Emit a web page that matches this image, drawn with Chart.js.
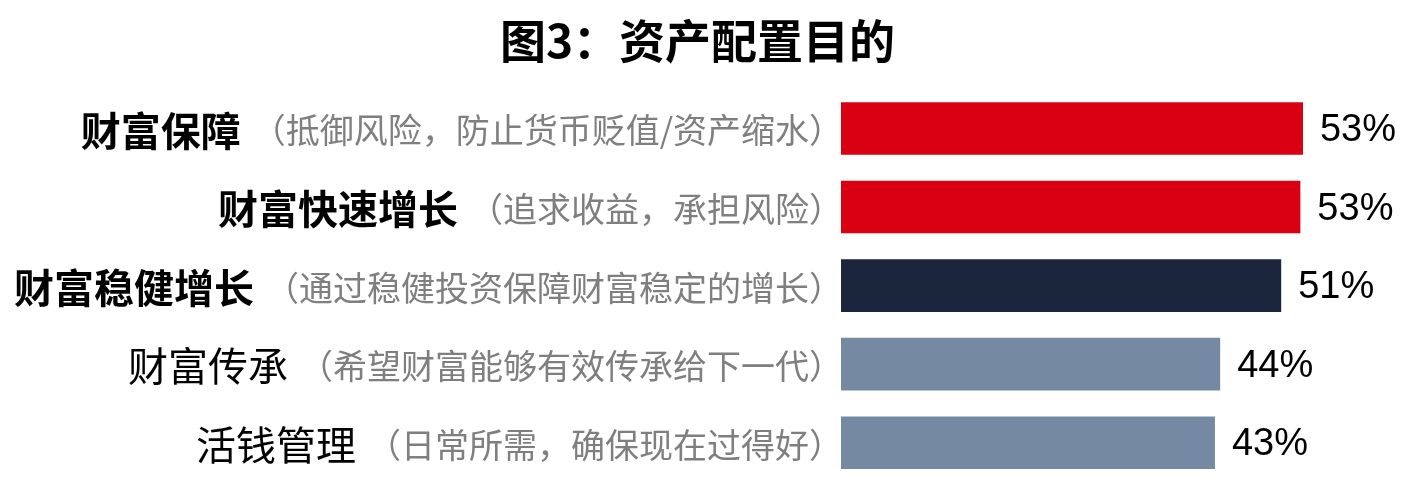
<!DOCTYPE html>
<html>
<head>
<meta charset="utf-8">
<script src="https://cdn.jsdelivr.net/npm/chart.js@4.4.1/dist/chart.umd.min.js"></script>
<style>
  html, body { margin: 0; padding: 0; background: #fff; }
  #wrap { width: 1418px; height: 493px; }
</style>
</head>
<body>
<div id="wrap"><canvas id="barChart"></canvas></div>
<script>
// data
const categories = ['财富保障', '财富快速增长', '财富稳健增长', '财富传承', '活钱管理'];
const notes = [
    '（抵御风险，防止货币贬值/资产缩水）',
    '（追求收益，承担风险）',
    '（通过稳健投资保障财富稳定的增长）',
    '（希望财富能够有效传承给下一代）',
    '（日常所需，确保现在过得好）'
];
const shares = [53.0, 52.7, 50.5, 43.5, 42.9];
const shareLabels = ['53%', '53%', '51%', '44%', '43%'];

// styling
const barColors = ['#d90012', '#d90012', '#1b253c', '#7589a3', '#7589a3'];
const catWeights = ['bold', 'bold', 'bold', 'normal', 'normal'];
const CJK = '"Noto Sans CJK SC", "Noto Sans", sans-serif';

const labelPlugin = {
    id: 'labels',
    afterDatasetsDraw(chart) {
        const c = chart.ctx;
        const yScale = chart.scales.y;
        const right = chart.chartArea.left + 2;
        c.save();
        c.textBaseline = 'middle';
        c.textAlign = 'right';
        categories.forEach((cat, i) => {
            const y = yScale.getPixelForTick(i) + 2;
            c.font = '34px ' + CJK;
            c.fillStyle = '#7f7f7f';
            c.fillText(notes[i], right, y);
            const w = c.measureText(notes[i]).width;
            c.font = catWeights[i] + ' 40px ' + CJK;
            c.fillStyle = '#000';
            c.fillText(cat, right - w - 11, y);
        });
        // value labels at bar ends
        c.textAlign = 'left';
        c.font = '38px "Liberation Sans", Arial, sans-serif';
        c.fillStyle = '#000';
        chart.getDatasetMeta(0).data.forEach((bar, i) => {
            c.fillText(shareLabels[i], bar.x + 17, bar.y + 2);
        });
        c.restore();
    }
};

new Chart(document.getElementById('barChart'), {
    type: 'bar',
    data: {
        labels: categories,
        datasets: [{
            data: shares,
            backgroundColor: barColors,
            categoryPercentage: 1,
            barPercentage: 0.67
        }]
    },
    options: {
        indexAxis: 'y',
        responsive: true,
        maintainAspectRatio: false,
        animation: false,
        layout: { padding: { top: 0, right: 54, bottom: 11, left: 31 } },
        plugins: {
            legend: { display: false },
            tooltip: { enabled: false },
            title: {
                display: true,
                text: '图3：资产配置目的',
                color: '#000',
                font: { family: CJK, size: 46, weight: 'bold', lineHeight: 1.2 },
                padding: { top: 13, bottom: 21 }
            }
        },
        scales: {
            x: {
                min: 0,
                max: 60,
                display: false
            },
            y: {
                grid: { display: false },
                border: { display: false },
                ticks: { display: false },
                afterFit(scale) { scale.width = 810; }
            }
        }
    },
    plugins: [labelPlugin]
});
</script>
</body>
</html>
